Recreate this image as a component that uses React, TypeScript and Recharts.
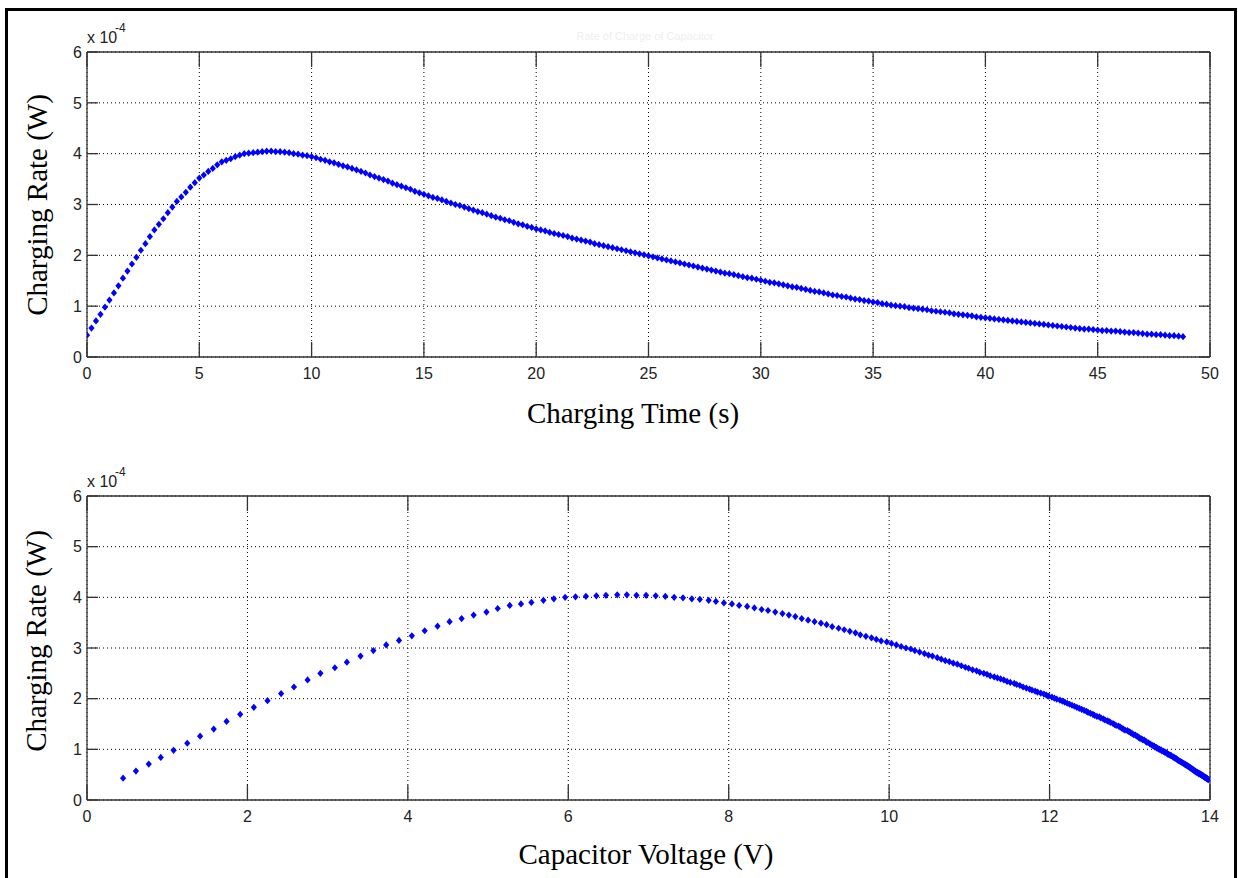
import React from 'react';
import { ScatterChart, Scatter, XAxis, YAxis, CartesianGrid, ReferenceLine } from 'recharts';

// sample times (s), one every 0.2 s
const timeS = [
  0, 0.2, 0.4, 0.6, 0.8,
  1, 1.2, 1.4, 1.6, 1.8,
  2, 2.2, 2.4, 2.6, 2.8,
  3, 3.2, 3.4, 3.6, 3.8,
  4, 4.2, 4.4, 4.6, 4.8,
  5, 5.2, 5.4, 5.6, 5.8,
  6, 6.2, 6.4, 6.6, 6.8,
  7, 7.2, 7.4, 7.6, 7.8,
  8, 8.2, 8.4, 8.6, 8.8,
  9, 9.2, 9.4, 9.6, 9.8,
  10, 10.2, 10.4, 10.6, 10.8,
  11, 11.2, 11.4, 11.6, 11.8,
  12, 12.2, 12.4, 12.6, 12.8,
  13, 13.2, 13.4, 13.6, 13.8,
  14, 14.2, 14.4, 14.6, 14.8,
  15, 15.2, 15.4, 15.6, 15.8,
  16, 16.2, 16.4, 16.6, 16.8,
  17, 17.2, 17.4, 17.6, 17.8,
  18, 18.2, 18.4, 18.6, 18.8,
  19, 19.2, 19.4, 19.6, 19.8,
  20, 20.2, 20.4, 20.6, 20.8,
  21, 21.2, 21.4, 21.6, 21.8,
  22, 22.2, 22.4, 22.6, 22.8,
  23, 23.2, 23.4, 23.6, 23.8,
  24, 24.2, 24.4, 24.6, 24.8,
  25, 25.2, 25.4, 25.6, 25.8,
  26, 26.2, 26.4, 26.6, 26.8,
  27, 27.2, 27.4, 27.6, 27.8,
  28, 28.2, 28.4, 28.6, 28.8,
  29, 29.2, 29.4, 29.6, 29.8,
  30, 30.2, 30.4, 30.6, 30.8,
  31, 31.2, 31.4, 31.6, 31.8,
  32, 32.2, 32.4, 32.6, 32.8,
  33, 33.2, 33.4, 33.6, 33.8,
  34, 34.2, 34.4, 34.6, 34.8,
  35, 35.2, 35.4, 35.6, 35.8,
  36, 36.2, 36.4, 36.6, 36.8,
  37, 37.2, 37.4, 37.6, 37.8,
  38, 38.2, 38.4, 38.6, 38.8,
  39, 39.2, 39.4, 39.6, 39.8,
  40, 40.2, 40.4, 40.6, 40.8,
  41, 41.2, 41.4, 41.6, 41.8,
  42, 42.2, 42.4, 42.6, 42.8,
  43, 43.2, 43.4, 43.6, 43.8,
  44, 44.2, 44.4, 44.6, 44.8,
  45, 45.2, 45.4, 45.6, 45.8,
  46, 46.2, 46.4, 46.6, 46.8,
  47, 47.2, 47.4, 47.6, 47.8,
  48, 48.2, 48.4, 48.6, 48.8,
];

// charging rate, in units of 1e-4 W
const powerE4 = [
  0.43, 0.57, 0.71, 0.84, 0.98,
  1.12, 1.26, 1.40, 1.55, 1.69,
  1.83, 1.96, 2.10, 2.23, 2.37,
  2.50, 2.61, 2.72, 2.84, 2.95,
  3.06, 3.15, 3.24, 3.34, 3.43,
  3.52, 3.58, 3.65, 3.71, 3.78,
  3.84, 3.87, 3.90, 3.94, 3.97,
  4.00, 4.01, 4.02, 4.03, 4.04,
  4.05, 4.05, 4.04, 4.04, 4.03,
  4.02, 4.00, 3.99, 3.97, 3.96,
  3.94, 3.92, 3.89, 3.87, 3.84,
  3.82, 3.79, 3.76, 3.74, 3.71,
  3.68, 3.65, 3.62, 3.58, 3.55,
  3.52, 3.49, 3.46, 3.42, 3.39,
  3.36, 3.33, 3.30, 3.26, 3.23,
  3.20, 3.17, 3.14, 3.12, 3.09,
  3.06, 3.03, 3.00, 2.98, 2.95,
  2.92, 2.89, 2.86, 2.84, 2.81,
  2.78, 2.75, 2.73, 2.70, 2.68,
  2.65, 2.62, 2.60, 2.57, 2.55,
  2.52, 2.50, 2.48, 2.45, 2.43,
  2.41, 2.39, 2.37, 2.34, 2.32,
  2.30, 2.28, 2.26, 2.23, 2.21,
  2.19, 2.17, 2.15, 2.13, 2.11,
  2.09, 2.07, 2.05, 2.03, 2.01,
  1.99, 1.97, 1.95, 1.93, 1.91,
  1.89, 1.87, 1.85, 1.83, 1.81,
  1.79, 1.77, 1.75, 1.73, 1.71,
  1.69, 1.67, 1.65, 1.64, 1.62,
  1.60, 1.58, 1.56, 1.55, 1.53,
  1.51, 1.49, 1.47, 1.46, 1.44,
  1.42, 1.40, 1.38, 1.37, 1.35,
  1.33, 1.31, 1.29, 1.28, 1.26,
  1.24, 1.22, 1.21, 1.19, 1.18,
  1.16, 1.14, 1.13, 1.11, 1.10,
  1.08, 1.07, 1.05, 1.04, 1.02,
  1.01, 1.00, 0.99, 0.97, 0.96,
  0.95, 0.94, 0.93, 0.91, 0.90,
  0.89, 0.88, 0.87, 0.85, 0.84,
  0.83, 0.82, 0.81, 0.79, 0.78,
  0.77, 0.76, 0.75, 0.74, 0.73,
  0.72, 0.71, 0.70, 0.69, 0.68,
  0.67, 0.66, 0.65, 0.64, 0.63,
  0.62, 0.61, 0.60, 0.59, 0.58,
  0.57, 0.56, 0.55, 0.55, 0.54,
  0.53, 0.52, 0.52, 0.51, 0.51,
  0.50, 0.49, 0.48, 0.48, 0.47,
  0.46, 0.45, 0.45, 0.44, 0.44,
  0.43, 0.42, 0.42, 0.41, 0.40,
];

// capacitor voltage (V) at the same samples
const voltageV = [
  0.45, 0.61, 0.77, 0.92, 1.08,
  1.25, 1.41, 1.58, 1.74, 1.91,
  2.08, 2.25, 2.42, 2.58, 2.75,
  2.91, 3.09, 3.24, 3.41, 3.57,
  3.73, 3.89, 4.05, 4.21, 4.37,
  4.52, 4.67, 4.82, 4.98, 5.12,
  5.27, 5.41, 5.54, 5.69, 5.82,
  5.96, 6.09, 6.22, 6.35, 6.47,
  6.61, 6.73, 6.85, 6.97, 7.09,
  7.21, 7.32, 7.43, 7.54, 7.64,
  7.75, 7.84, 7.94, 8.04, 8.13,
  8.23, 8.32, 8.41, 8.49, 8.58,
  8.67, 8.75, 8.83, 8.91, 8.99,
  9.07, 9.15, 9.22, 9.29, 9.37,
  9.44, 9.51, 9.58, 9.64, 9.71,
  9.78, 9.84, 9.90, 9.97, 10.03,
  10.09, 10.15, 10.21, 10.27, 10.32,
  10.38, 10.44, 10.49, 10.54, 10.60,
  10.65, 10.70, 10.75, 10.80, 10.85,
  10.90, 10.95, 10.99, 11.04, 11.09,
  11.13, 11.18, 11.22, 11.26, 11.31,
  11.35, 11.39, 11.43, 11.47, 11.51,
  11.56, 11.59, 11.63, 11.67, 11.71,
  11.75, 11.78, 11.82, 11.85, 11.89,
  11.93, 11.96, 11.99, 12.03, 12.06,
  12.09, 12.13, 12.16, 12.19, 12.22,
  12.25, 12.28, 12.31, 12.34, 12.37,
  12.40, 12.43, 12.46, 12.48, 12.51,
  12.54, 12.56, 12.59, 12.62, 12.64,
  12.67, 12.69, 12.72, 12.74, 12.76,
  12.79, 12.81, 12.83, 12.86, 12.88,
  12.90, 12.92, 12.94, 12.97, 12.99,
  13.01, 13.03, 13.05, 13.07, 13.09,
  13.11, 13.12, 13.14, 13.16, 13.18,
  13.20, 13.21, 13.23, 13.25, 13.26,
  13.28, 13.30, 13.31, 13.33, 13.34,
  13.36, 13.37, 13.39, 13.40, 13.42,
  13.43, 13.44, 13.46, 13.47, 13.48,
  13.50, 13.51, 13.52, 13.54, 13.55,
  13.561, 13.573, 13.584, 13.596, 13.607,
  13.619, 13.630, 13.641, 13.651, 13.662,
  13.673, 13.683, 13.693, 13.704, 13.714,
  13.724, 13.733, 13.742, 13.752, 13.761,
  13.770, 13.779, 13.787, 13.796, 13.804,
  13.813, 13.821, 13.829, 13.837, 13.845,
  13.853, 13.860, 13.867, 13.875, 13.882,
  13.889, 13.896, 13.903, 13.910, 13.917,
  13.924, 13.930, 13.936, 13.943, 13.949,
  13.955, 13.961, 13.967, 13.973, 13.979,
];

const timeTicks = [0, 5, 10, 15, 20, 25, 30, 35, 40, 45, 50];
const voltTicks = [0, 2, 4, 6, 8, 10, 12, 14];
const rateTicks = [0, 1, 2, 3, 4, 5, 6];

const timeData = timeS.map((t, i) => ({ x: t, y: powerE4[i] }));
const voltData = voltageV.map((v, i) => ({ x: v, y: powerE4[i] }));

const W = 1238;
const PLOT_LEFT = 87;
const PLOT_RIGHT = 1210;
const AXIS_COLOR = '#333';
const TICK_FONT = '"Liberation Sans Narrow", "Arial Narrow", "Liberation Sans", Arial, sans-serif';
const SERIF = '"Liberation Serif", "Times New Roman", serif';

const XTick = (props: any) => {
  const { x, payload, plotTop, plotBottom } = props;
  return (
    <g>
      <line x1={x} x2={x} y1={plotBottom} y2={plotBottom - 15} stroke={AXIS_COLOR} strokeWidth={1.3} />
      <line x1={x} x2={x} y1={plotTop} y2={plotTop + 15} stroke={AXIS_COLOR} strokeWidth={1.3} />
      <text x={x} y={plotBottom + 22} textAnchor="middle" fontFamily={TICK_FONT} fontSize={16} fill="#222">
        {payload.value}
      </text>
    </g>
  );
};

const YTick = (props: any) => {
  const { y, payload } = props;
  return (
    <g>
      <line x1={PLOT_LEFT} x2={PLOT_LEFT + 11} y1={y} y2={y} stroke={AXIS_COLOR} strokeWidth={1.3} />
      <line x1={PLOT_RIGHT} x2={PLOT_RIGHT - 11} y1={y} y2={y} stroke={AXIS_COLOR} strokeWidth={1.3} />
      <text x={PLOT_LEFT - 5} y={y} dy="0.36em" textAnchor="end" fontFamily={TICK_FONT} fontSize={16} fill="#222">
        {payload.value}
      </text>
    </g>
  );
};

const Diamond = (p: any) => {
  const { cx, cy } = p;
  if (cx == null || cy == null) return null;
  return (
    <polygon
      points={`${cx},${cy - 3.6} ${cx + 3.1},${cy} ${cx},${cy + 3.6} ${cx - 3.1},${cy}`}
      fill="#0000ff"
    />
  );
};

function Panel({ data, xTicks, xMax, height, plotTop, plotBottom }: any) {
  return (
    <ScatterChart
      width={W}
      height={height}
      margin={{ top: plotTop, right: W - PLOT_RIGHT, bottom: height - plotBottom - 30, left: PLOT_LEFT - 60 }}
    >
      <CartesianGrid stroke="#000" strokeDasharray="1 3" strokeWidth={1} />
      <XAxis
        type="number"
        dataKey="x"
        domain={[0, xMax]}
        ticks={xTicks}
        interval={0}
        allowDataOverflow
        height={30}
        tickLine={false}
        axisLine={{ stroke: AXIS_COLOR, strokeWidth: 1.3 }}
        tick={(p: any) => <XTick {...p} plotTop={plotTop} plotBottom={plotBottom} />}
      />
      <YAxis
        type="number"
        dataKey="y"
        domain={[0, 6]}
        ticks={rateTicks}
        interval={0}
        allowDataOverflow
        width={60}
        tickLine={false}
        axisLine={{ stroke: AXIS_COLOR, strokeWidth: 1.3 }}
        tick={(p: any) => <YTick {...p} />}
      />
      <ReferenceLine y={6} stroke={AXIS_COLOR} strokeWidth={1.3} />
      <ReferenceLine x={xMax} stroke={AXIS_COLOR} strokeWidth={1.3} />
      <Scatter data={data} shape={(p: any) => <Diamond {...p} />} isAnimationActive={false} />
    </ScatterChart>
  );
}

export default function App() {
  return (
    <div style={{ position: 'absolute', left: 0, top: 0, width: W, height: 878, background: '#fff', overflow: 'hidden' }}>
      <div
        style={{
          position: 'absolute', left: 5, top: 8, width: 1232, height: 900,
          border: '3px solid #000', boxSizing: 'border-box',
        }}
      />
      <div style={{ position: 'absolute', left: 0, top: 0 }}>
        <Panel data={timeData} xTicks={timeTicks} xMax={50} height={440} plotTop={52} plotBottom={357} />
      </div>
      <div style={{ position: 'absolute', left: 0, top: 440 }}>
        <Panel data={voltData} xTicks={voltTicks} xMax={14} height={438} plotTop={56} plotBottom={360} />
      </div>
      <svg width={W} height={878} style={{ position: 'absolute', left: 0, top: 0, pointerEvents: 'none' }}>
        <text x={645} y={40} textAnchor="middle" fontFamily={TICK_FONT} fontSize={11} fill="#eeeeee">
          Rate of Charge of Capacitor
        </text>
        <text x={87} y={43} fontFamily={TICK_FONT} fontSize={16} fill="#222">x 10</text>
        <text x={115} y={32} fontFamily={TICK_FONT} fontSize={12} fill="#222">-4</text>
        <text x={87} y={487} fontFamily={TICK_FONT} fontSize={16} fill="#222">x 10</text>
        <text x={115} y={476} fontFamily={TICK_FONT} fontSize={12} fill="#222">-4</text>
        <text x={47} y={205} transform="rotate(-90 47 205)" textAnchor="middle" fontFamily={SERIF} fontSize={29} fill="#000">
          Charging Rate (W)
        </text>
        <text x={46} y={641} transform="rotate(-90 46 641)" textAnchor="middle" fontFamily={SERIF} fontSize={29} fill="#000">
          Charging Rate (W)
        </text>
        <text x={633} y={423} textAnchor="middle" fontFamily={SERIF} fontSize={29} fill="#000">
          Charging Time (s)
        </text>
        <text x={646} y={864} textAnchor="middle" fontFamily={SERIF} fontSize={29} fill="#000">
          Capacitor Voltage (V)
        </text>
      </svg>
    </div>
  );
}
